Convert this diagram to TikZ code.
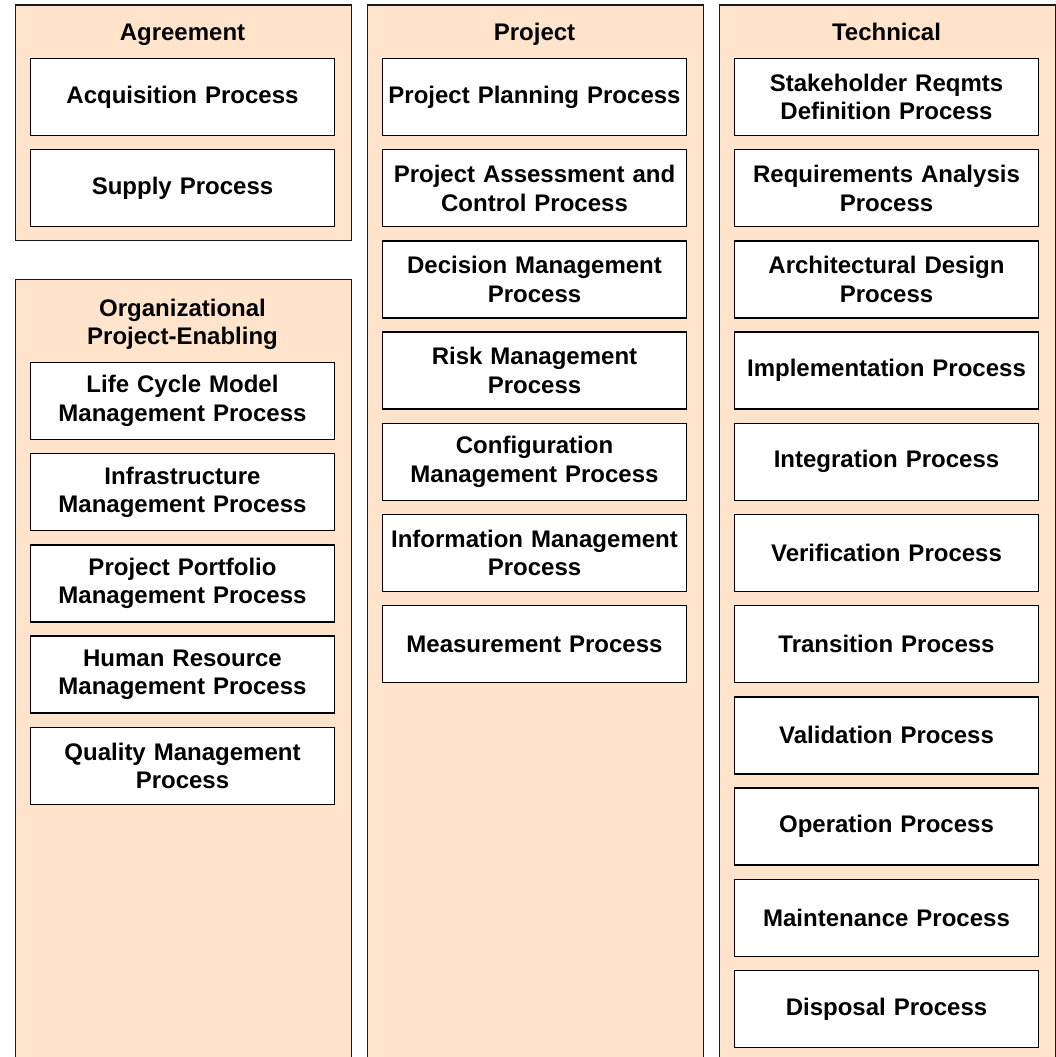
\documentclass[tikz,border=0pt]{standalone}
\usepackage{fontspec}
\setmainfont{Liberation Sans}
\usetikzlibrary{positioning}

\definecolor{panelfill}{RGB}{255,228,203}

\tikzset{
  panel/.style={draw=black!90, line width=1.5pt, fill=panelfill, anchor=north west, inner sep=0pt},
  grouptitle/.style={align=center, inner sep=0pt, text depth=0.21em, font=\bfseries\fontsize{24}{28.5}\selectfont},
  procbox/.style={draw=black, line width=1.5pt, fill=white, minimum width=304pt, minimum height=77pt,
    text width=300pt, align=center, inner sep=0pt, outer sep=0pt, font=\bfseries\fontsize{24}{28.5}\selectfont},
}

\begin{document}
\begin{tikzpicture}[x=1pt, y=-1pt]
    \clip (0,0) rectangle (1056,1057);
    \fill[white] (0,0) rectangle (1056,1057);

    % Group panels
    \node[panel, minimum width=336pt, minimum height=235pt] (agreement) at (14.5,4.5) {};
    \node[panel, minimum width=336pt, minimum height=800pt] (orgenabling) at (14.5,278.5) {};
    \node[panel, minimum width=336pt, minimum height=1070pt] (project) at (366.5,4.5) {};
    \node[panel, minimum width=336pt, minimum height=1070pt] (technical) at (718.5,4.5) {};

    % Agreement processes
    \node[procbox] (acq) at (182.5,97) {Acquisition Process};
    \node[procbox, below=14.2pt of acq] (supply) {Supply Process};
    \node[grouptitle, above=15.5pt of acq] (agreementtitle) {Agreement};

    % Organizational project-enabling processes
    \node[procbox] (lcm) at (182.5,401) {Life Cycle Model\\Management Process};
    \node[procbox, below=14.2pt of lcm] (infra) {Infrastructure\\Management Process};
    \node[procbox, below=14.2pt of infra] (ppm) {Project Portfolio\\Management Process};
    \node[procbox, below=14.2pt of ppm] (hrm) {Human Resource\\Management Process};
    \node[procbox, below=14.2pt of hrm] (qm) {Quality Management\\Process};
    \node[grouptitle, above=15.5pt of lcm] (orgtitle) {Organizational\\Project-Enabling};

    % Project processes
    \node[procbox] (plan) at (534.5,97) {Project Planning Process};
    \node[procbox, below=14.2pt of plan] (assess) {Project Assessment and\\Control Process};
    \node[procbox, below=14.2pt of assess] (decision) {Decision Management\\Process};
    \node[procbox, below=14.2pt of decision] (risk) {Risk Management\\Process};
    \node[procbox, below=14.2pt of risk] (config) {Configuration\\Management Process};
    \node[procbox, below=14.2pt of config] (info) {Information Management\\Process};
    \node[procbox, below=14.2pt of info] (meas) {Measurement Process};
    \node[grouptitle, above=15.5pt of plan] (projecttitle) {Project};

    % Technical processes
    \node[procbox] (stake) at (886.5,97) {Stakeholder Reqmts\\Definition Process};
    \node[procbox, below=14.2pt of stake] (reqan) {Requirements Analysis\\Process};
    \node[procbox, below=14.2pt of reqan] (arch) {Architectural Design\\Process};
    \node[procbox, below=14.2pt of arch] (impl) {Implementation Process};
    \node[procbox, below=14.2pt of impl] (integ) {Integration Process};
    \node[procbox, below=14.2pt of integ] (verif) {Verification Process};
    \node[procbox, below=14.2pt of verif] (trans) {Transition Process};
    \node[procbox, below=14.2pt of trans] (valid) {Validation Process};
    \node[procbox, below=14.2pt of valid] (oper) {Operation Process};
    \node[procbox, below=14.2pt of oper] (maint) {Maintenance Process};
    \node[procbox, below=14.2pt of maint] (disp) {Disposal Process};
    \node[grouptitle, above=15.5pt of stake] (technicaltitle) {Technical};
\end{tikzpicture}
\end{document}
